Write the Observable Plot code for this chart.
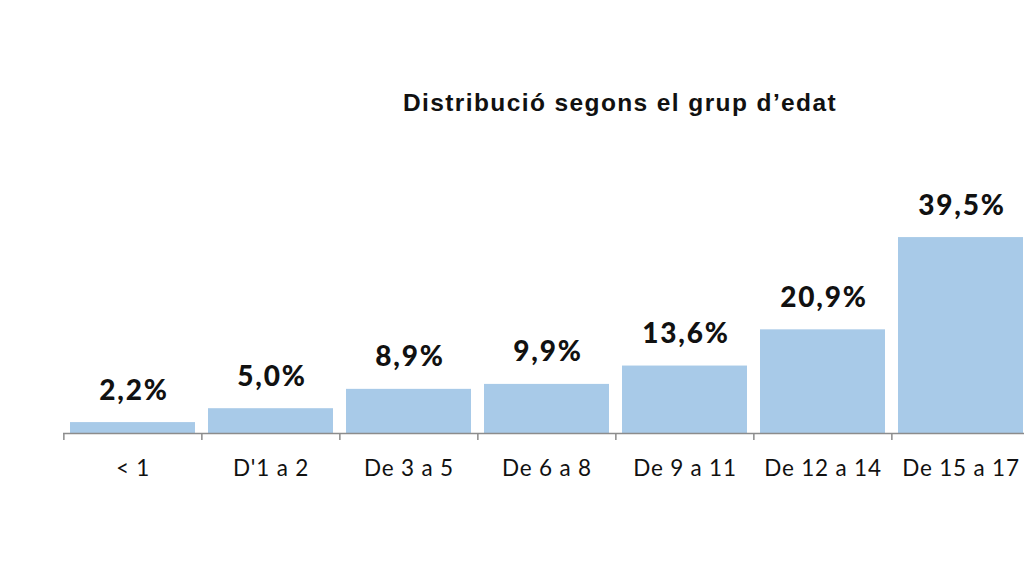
<!DOCTYPE html>
<html>
<head>
<meta charset="utf-8">
<script src="https://cdn.jsdelivr.net/npm/d3@7"></script>
<script src="https://cdn.jsdelivr.net/npm/@observablehq/plot@0.6"></script>
<style>
  html, body { margin: 0; padding: 0; background: #fff; overflow: hidden; width: 1024px; height: 576px; }
  #wrap { position: relative; width: 1024px; height: 576px; overflow: hidden; }
  #title { position: absolute; left: 0; width: 1240px; top: 90px; text-align: center;
    font-family: "Liberation Sans", Arial, sans-serif; font-weight: bold; font-size: 24.5px; letter-spacing: 1.4px; color: #111; line-height: 26px; }
  #chart { position: absolute; left: 0; top: 130px; width: 1040px; }
  #chart svg { max-width: none !important; }
</style>
</head>
<body>
<div id="wrap">
  <div id="title">Distribució segons el grup d’edat</div>
  <div id="chart"></div>
</div>
<script>
const categories = ["< 1", "D'1 a 2", "De 3 a 5", "De 6 a 8", "De 9 a 11", "De 12 a 14", "De 15 a 17"];
const values = [2.2, 5.0, 8.9, 9.9, 13.6, 20.9, 39.5];
const labels = ["2,2%", "5,0%", "8,9%", "9,9%", "13,6%", "20,9%", "39,5%"];

const data = categories.map((c, i) => ({cat: c, value: values[i], label: labels[i]}));

const W = 1040, mL = 63, mR = 9;
const step = (W - mL - mR) / categories.length;

const plot = Plot.plot({
  width: W,
  height: 446,
  marginLeft: mL,
  marginRight: mR,
  marginTop: 55,
  marginBottom: 143,
  style: {fontFamily: "Lato, 'Open Sans', sans-serif", background: "transparent", overflow: "visible", maxWidth: "none"},
  x: {domain: categories, paddingInner: 0.094, paddingOuter: 0.047, label: null},
  y: {domain: [0, 50], axis: null},
  marks: [
    Plot.barY(data, {x: "cat", y: "value", fill: "#a8cae8"}),
    Plot.ruleY([0], {stroke: "#8c8c8c", strokeWidth: 1.5}),
    Plot.ruleX(categories, {x: d => d, y1: 0, y2: 0, insetBottom: -7, dx: -step / 2, stroke: "#8c8c8c", strokeWidth: 1.5}),
    Plot.text(data, {x: "cat", y: "value", text: "label", dy: -32, fontSize: 28, fontWeight: 900, fill: "#111", lineAnchor: "middle", className: "vlab"}),
    Plot.axisX({tickSize: 0, tickPadding: 0, dy: 27, fontSize: 22.5, fill: "#111", label: null, className: "xlab"})
  ]
});
d3.select(plot).selectAll(".vlab text").attr("letter-spacing", "1.8px").attr("dx", 1);
d3.select(plot).selectAll(".xlab text").attr("letter-spacing", "0.8px");
document.getElementById("chart").appendChild(plot);
</script>
</body>
</html>
